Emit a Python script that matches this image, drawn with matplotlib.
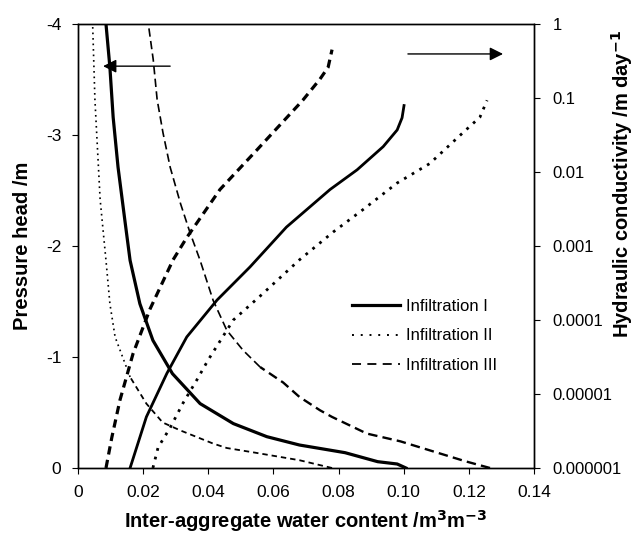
import matplotlib
matplotlib.use("Agg")
import matplotlib.pyplot as plt
from matplotlib.lines import Line2D
from matplotlib.ticker import FixedLocator, FixedFormatter

plt.rcParams["font.family"] = ["Liberation Sans", "DejaVu Sans"]
plt.rcParams["axes.unicode_minus"] = False

# water retention: pressure head (m) vs inter-aggregate water content
ret1_theta = [0.1007, 0.098, 0.092, 0.082, 0.068, 0.058, 0.0477, 0.0375, 0.029,
              0.023, 0.019, 0.016, 0.0144, 0.0123, 0.0108, 0.0098, 0.0086]
ret1_h = [0, -0.036, -0.057, -0.138, -0.207, -0.282, -0.40, -0.58, -0.85,
          -1.15, -1.48, -1.87, -2.23, -2.71, -3.16, -3.61, -4.0]

ret2_theta = [0.078, 0.068, 0.054, 0.0457, 0.0415, 0.0313, 0.026, 0.021, 0.016,
              0.0114, 0.0098, 0.0086, 0.0068, 0.0052, 0.0045]
ret2_h = [0, -0.07, -0.14, -0.18, -0.22, -0.34, -0.41, -0.58, -0.82,
          -1.18, -1.48, -1.87, -2.42, -3.32, -4.0]

ret3_theta = [0.1265, 0.119, 0.109, 0.099, 0.0887, 0.078, 0.0743, 0.068, 0.063,
              0.0559, 0.0507, 0.0457, 0.0415, 0.0375, 0.0344, 0.0315, 0.0283,
              0.0261, 0.0243, 0.0231, 0.0216]
ret3_h = [0, -0.06, -0.15, -0.24, -0.31, -0.46, -0.52, -0.64, -0.77,
          -0.91, -1.06, -1.24, -1.51, -1.87, -2.12, -2.38, -2.71,
          -3.02, -3.32, -3.68, -4.0]

# hydraulic conductivity (m/day) vs water content
con1_theta = [0.016, 0.021, 0.0273, 0.0334, 0.0427, 0.0528, 0.064, 0.0774,
              0.0857, 0.0937, 0.098, 0.0995, 0.1001]
con1_k = [1e-6, 4.9e-6, 1.9e-5, 5.9e-5, 1.86e-4, 5.2e-4, 1.8e-3, 5.8e-3,
          1.07e-2, 2.2e-2, 3.7e-2, 5.4e-2, 7.9e-2]

con2_theta = [0.023, 0.0246, 0.0283, 0.0323, 0.0365, 0.040, 0.0477, 0.0559,
              0.068, 0.0784, 0.0875, 0.098, 0.108, 0.1182, 0.1234, 0.1256]
con2_k = [1e-6, 1.9e-6, 3.5e-6, 7.6e-6, 1.55e-5, 2.9e-5, 1.0e-4, 2.1e-4,
          6.5e-4, 1.55e-3, 3.1e-3, 7.1e-3, 1.3e-2, 3.4e-2, 5.5e-2, 9.3e-2]

con3_theta = [0.0086, 0.0104, 0.0129, 0.0169, 0.0221, 0.0292, 0.0334, 0.0436,
              0.055, 0.069, 0.0743, 0.0768, 0.078]
con3_k = [1e-6, 2.6e-6, 8.3e-6, 3.5e-5, 1.4e-4, 6.5e-4, 1.3e-3, 5.8e-3,
          2.0e-2, 9.3e-2, 0.18, 0.26, 0.45]

x_ticks = [0, 0.02, 0.04, 0.06, 0.08, 0.10, 0.12, 0.14]
x_labels = ["0", "0.02", "0.04", "0.06", "0.08", "0.10", "0.12", "0.14"]
h_ticks = [0, -1, -2, -3, -4]
k_ticks = [1e-6, 1e-5, 1e-4, 1e-3, 1e-2, 1e-1, 1]
k_labels = ["0.000001", "0.00001", "0.0001", "0.001", "0.01", "0.1", "1"]
labels = ["Infiltration I", "Infiltration II", "Infiltration III"]

fig = plt.figure(figsize=(6.36, 5.34), dpi=100)
ax = fig.add_axes([0.1226, 0.1236, 0.717, 0.8315])
ax2 = ax.twinx()

# 보유곡선 — 왼쪽 축. 스캔 원본에서 II는 아래쪽이 짧은 파선처럼, III은 아래쪽이
# 더 굵게 찍혀 있어서 곡선을 두 토막으로 나눠 그린다.
ax.plot(ret1_theta, ret1_h, color="black", lw=2.3)
ax.plot(ret2_theta[8:], ret2_h[8:], color="black", lw=1.2, ls=(0, (1, 2.3)))
ax.plot(ret2_theta[:9], ret2_h[:9], color="black", lw=1.3, ls=(0, (3, 2.2)))
ax.plot(ret3_theta[9:], ret3_h[9:], color="black", lw=1.2, ls=(0, (5, 2.6)))
ax.plot(ret3_theta[:10], ret3_h[:10], color="black", lw=1.7, ls=(0, (4, 2.2)))

# 투수계수 곡선 — 오른쪽 로그 축
ax2.plot(con1_theta, con1_k, color="black", lw=2.0)
ax2.plot(con2_theta, con2_k, color="black", lw=2.0, ls=(0, (1, 2.2)))
ax2.plot(con3_theta, con3_k, color="black", lw=2.3, ls=(0, (2.6, 1.7)))

ax.set_xlim(0, 0.14)
ax.set_ylim(0, -4)
ax.xaxis.set_major_locator(FixedLocator(x_ticks))
ax.xaxis.set_major_formatter(FixedFormatter(x_labels))
ax.set_yticks(h_ticks)
ax.set_yticklabels([str(v) for v in h_ticks])

ax2.set_yscale("log")
ax2.set_ylim(1e-6, 1)
ax2.yaxis.set_major_locator(FixedLocator(k_ticks))
ax2.yaxis.set_major_formatter(FixedFormatter(k_labels))
ax2.yaxis.set_minor_locator(FixedLocator([]))

ax.tick_params(axis="x", labelsize=12.5, length=4, width=0.8, pad=8)
ax.tick_params(axis="y", labelsize=12.5, length=4, width=0.8, pad=8)
ax2.tick_params(axis="y", labelsize=12, length=4, width=0.8, pad=9.5)
for a in (ax, ax2):
    for s in a.spines.values():
        s.set_linewidth(1.0)

ax.set_xlabel("Inter-aggregate water content /m$^\\mathbf{3}$m$^\\mathbf{-3}$",
              fontsize=14.5, fontweight="bold")
ax.xaxis.set_label_coords(0.5, -0.09)
ax.set_ylabel("Pressure head /m", fontsize=14.5, fontweight="bold")
ax.yaxis.set_label_coords(-0.10, 0.5)
ax2.set_ylabel("Hydraulic conductivity /m day$^\\mathbf{-1}$",
               fontsize=14.5, fontweight="bold")
ax2.yaxis.set_label_coords(1.165, 0.64)

# 어느 축을 읽는지 가리키는 화살표
ax.annotate("", xy=(0.0077, -3.62), xytext=(0.0283, -3.62),
            arrowprops=dict(arrowstyle="-|>", color="black", lw=1.0,
                            mutation_scale=20, shrinkA=0, shrinkB=0))
ax.annotate("", xy=(0.1305, -3.73), xytext=(0.1013, -3.73),
            arrowprops=dict(arrowstyle="-|>", color="black", lw=1.0,
                            mutation_scale=20, shrinkA=0, shrinkB=0))

handles = [Line2D([], [], color="black", lw=2.3),
           Line2D([], [], color="black", lw=1.4, ls=(0, (1, 3.5))),
           Line2D([], [], color="black", lw=1.3, ls=(0, (5, 3.5)))]
ax2.legend(handles, labels, loc="upper left", bbox_to_anchor=(0.568, 0.414),
           frameon=False, fontsize=12, handlelength=2.9, handletextpad=0.35,
           labelspacing=0.85)

fig.savefig("out.png", dpi=100)
